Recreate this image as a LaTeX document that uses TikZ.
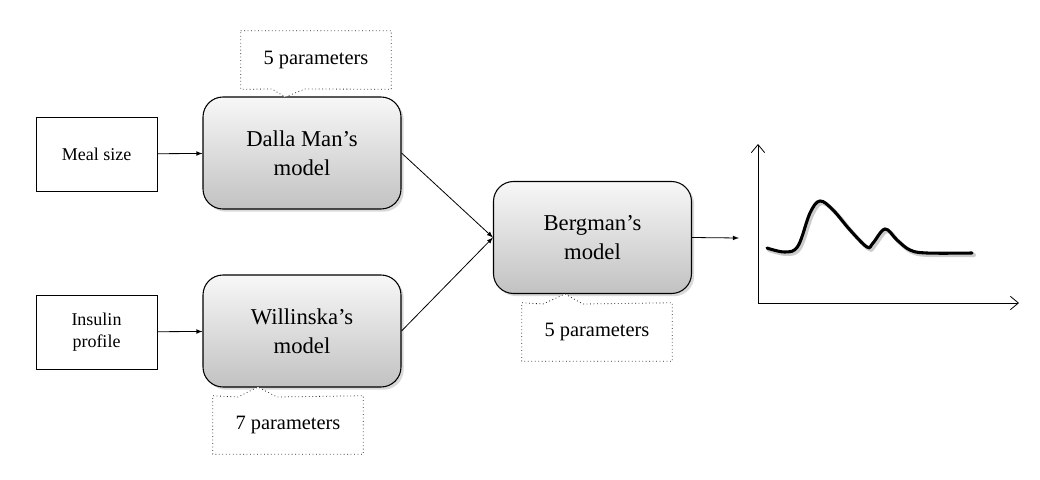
\documentclass[tikz,border=0pt]{standalone}
\usepackage{fontspec}
\setmainfont{Liberation Serif}
\usetikzlibrary{arrows,arrows.meta,shadows,positioning}

\tikzset{
  inbox/.style={draw, line width=0.6pt, fill=white, minimum width=90.75pt, minimum height=55.5pt, align=center, font=\fontsize{13.5}{16.5}\selectfont},
  model/.style={draw, line width=0.8pt, rounded corners=15pt, top color=gray!6, bottom color=gray!48, drop shadow={opacity=0.3, shadow xshift=2pt, shadow yshift=-2pt}, minimum width=148.5pt, minimum height=84pt, align=center, font=\fontsize{17}{21.5}\selectfont},
  param/.style={minimum width=112.5pt, minimum height=43.5pt, font=\fontsize{15.3}{18}\selectfont},
  callout/.style={draw=black!85, dotted, line width=0.6pt, fill=white},
  link/.style={black, line width=0.6pt, ->, >=latex},
  axis/.style={black, line width=0.6pt, -{Straight Barb[length=6pt,width=10pt]}},
}

\begin{document}
\begin{tikzpicture}[x=0.75pt,y=-0.75pt]
\useasboundingbox (0,0) rectangle (1040,479);

% entrees
\node[inbox] (meal) at (96.5,154) {Meal size};
\node[inbox] (insulin) at (96.5,332) {Insulin\\profile};

% modeles
\node[model] (dalla) at (302,153) {Dalla Man's\\model};
\node[model] (willinska) at (302,331) {Willinska's\\model};
\node[model] (bergman) at (592.5,237.5) {Bergman's\\model};

% bulles parametres
\coordinate (tipdalla) at (285,97);
\coordinate (tipberg) at (565,294);
\coordinate (tipwill) at (258,387);

\node[param] (pdalla) at (316,60) {};
\draw[callout] (pdalla.north west) -- (pdalla.north east) -- (pdalla.south east) -- (305,89) -- (tipdalla) -- (272,89) -- (pdalla.south west) -- cycle;
\node[param] at (pdalla) {5 parameters};

\node[param] (pberg) at (597,332) {};
\draw[callout] (pberg.south west) -- (pberg.north west) -- (543,304) -- (tipberg) -- (583,304) -- (pberg.north east) -- (pberg.south east) -- cycle;
\node[param] at (pberg) {5 parameters};

\node[param] (pwill) at (288,425) {};
\draw[callout] (pwill.south west) -- (pwill.north west) -- (238,397) -- (tipwill) -- (277,397) -- (pwill.north east) -- (pwill.south east) -- cycle;
\node[param] at (pwill) {7 parameters};

% liens
\draw[link] (meal) -- (dalla);
\draw[link] (insulin) -- (willinska);
\draw[link] (dalla.east) -- (bergman.west);
\draw[link] (willinska.east) -- (bergman.west);
\coordinate (out) at (739,238);
\draw[link] (bergman.east) -- (out);

% courbe de sortie
\coordinate (origin) at (758,303);
\draw[axis] (origin) -- (758,144);
\draw[axis] (origin) -- (1019,303);

\draw[gray!40, line width=3pt, line cap=round, xshift=1.5pt, yshift=-1.5pt] plot[smooth, tension=0.6] coordinates {(767,248) (785,252) (798,246) (810,213) (820,201) (833,210) (850,230) (867,247) (873,243) (885,229) (897,240) (910,250) (927,253) (972,253)};
\draw[black, line width=2.3pt, line cap=round] plot[smooth, tension=0.6] coordinates {(767,248) (785,252) (798,246) (810,213) (820,201) (833,210) (850,230) (867,247) (873,243) (885,229) (897,240) (910,250) (927,253) (972,253)};

\end{tikzpicture}
\end{document}
